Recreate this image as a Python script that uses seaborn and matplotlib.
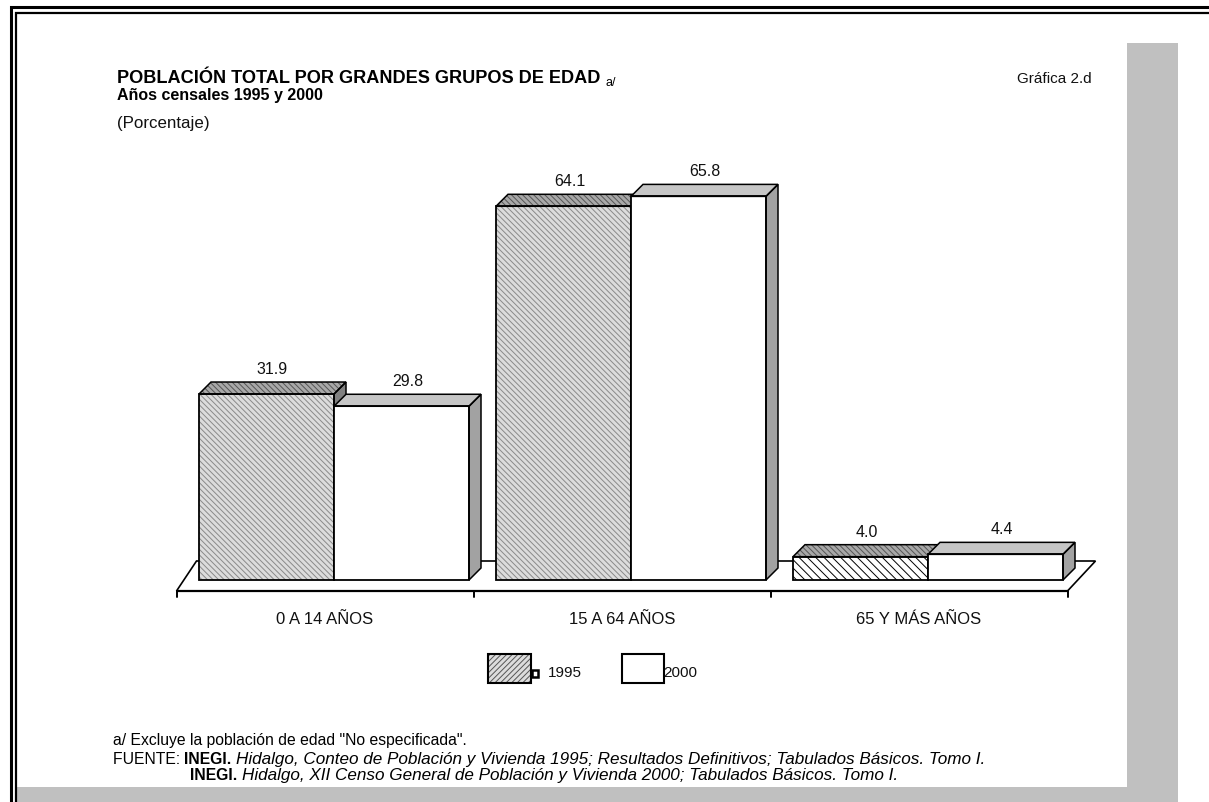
import matplotlib
matplotlib.use("Agg")
import matplotlib.pyplot as plt
from matplotlib.patches import Polygon, Rectangle
import numpy as np
import pandas as pd
import seaborn as sns

# ---- data ----
grupos = ["0 A 14 AÑOS", "15 A 64 AÑOS", "65 Y MÁS AÑOS"]
anios = ["1995", "2000"]
valores_1995 = [31.9, 64.1, 4.0]
valores_2000 = [29.8, 65.8, 4.4]

df = pd.DataFrame({
    "grupo": grupos * 2,
    "anio": ["1995"] * 3 + ["2000"] * 3,
    "porcentaje": valores_1995 + valores_2000,
})

sns.set_theme(style="white")
plt.rcParams["font.family"] = ["Liberation Sans", "DejaVu Sans"]
plt.rcParams["hatch.linewidth"] = 0.7

W, H = 1209, 802
fig = plt.figure(figsize=(W / 100, H / 100), dpi=100)

# page background drawn in pixel coordinates
bg = fig.add_axes([0, 0, 1, 1])
bg.set_xlim(0, W)
bg.set_ylim(H, 0)
bg.axis("off")

GRAY = "#c0c0c0"
bg.add_patch(Rectangle((1127, 43), 51, H - 43, facecolor=GRAY, edgecolor="none"))
bg.add_patch(Rectangle((16, 787), 1162, H - 787, facecolor=GRAY, edgecolor="none"))
# double frame
bg.plot([10.5, 10.5, W + 5], [H + 5, 6.5, 6.5], color="black", lw=2.2, solid_joinstyle="miter")
bg.plot([15.5, 15.5, W + 5], [H + 5, 12.5, 12.5], color="black", lw=1.6, solid_joinstyle="miter")

# ---- chart axes: one group step = 297 px, 1 % = 5.83 px ----
PX_X = 297.0
PX_Y = 5.83
X0_PX = 334.0      # pixel of category 0 centre
Y0_PX = 580.0      # pixel of value 0
ax_l, ax_r, ax_t, ax_b = 150, 1120, 140, 640
ax = fig.add_axes([ax_l / W, 1 - ax_b / H, (ax_r - ax_l) / W, (ax_b - ax_t) / H])
ax.patch.set_alpha(0)

sns.barplot(
    data=df, x="grupo", y="porcentaje", hue="anio", order=grupos, hue_order=anios,
    palette={"1995": "#dcdcdc", "2000": "white"}, width=270 / PX_X, gap=0,
    edgecolor="#777777", linewidth=0, legend=False, ax=ax,
)
ax.set_xlim((ax_l - X0_PX) / PX_X, (ax_r - X0_PX) / PX_X)
ax.set_ylim((Y0_PX - ax_b) / PX_Y, (Y0_PX - ax_t) / PX_Y)
ax.axis("off")


def dxp(px):
    return px / PX_X


def dyp(px):
    return px / PX_Y


DX, DY = dxp(12), dyp(12)

# floor plane
fx0, fx1 = -0.5, 2.5
floor = Polygon(
    [(fx0 - dxp(9), -dyp(11)), (fx1 - dxp(9), -dyp(11)),
     (fx1 + dxp(19), dyp(19)), (fx0 + dxp(11), dyp(19))],
    closed=True, facecolor="white", edgecolor="black", lw=1.2, zorder=0.5,
)
ax.add_patch(floor)
# front axis line with group ticks
ax.plot([fx0 - dxp(9), fx1 - dxp(9)], [-dyp(11), -dyp(11)], color="black", lw=1.6, zorder=0.6,
        solid_capstyle="butt")
for b in np.arange(fx0, fx1 + 0.01, 1.0):
    ax.plot([b - dxp(9)] * 2, [-dyp(11), -dyp(17)], color="black", lw=1.4, zorder=0.6)

# category labels
for i, g in enumerate(grupos):
    ax.text(i - dxp(9), -dyp(39), g, ha="center", va="center", fontsize=12, color="#111111")

cont_1995, cont_2000 = ax.containers[0], ax.containers[1]


def faces(patch, top_color, side_color, top_hatch, z):
    x0 = patch.get_x()
    x1 = x0 + patch.get_width()
    h = patch.get_height()
    top = Polygon([(x0, h), (x1, h), (x1 + DX, h + DY), (x0 + DX, h + DY)], closed=True,
                  facecolor=top_color, edgecolor="#555555" if top_hatch else "none",
                  hatch=top_hatch, lw=0, zorder=z)
    side = Polygon([(x1, 0), (x1, h), (x1 + DX, h + DY), (x1 + DX, DY)], closed=True,
                   facecolor=side_color, edgecolor="none", lw=0, zorder=z)
    ax.add_patch(top)
    ax.add_patch(side)
    for poly in (top, side):
        ax.add_patch(Polygon(poly.get_xy(), closed=True, fill=False, edgecolor="black",
                             lw=1.1, zorder=z + 0.05))
    ax.add_patch(Rectangle((x0, 0), x1 - x0, h, fill=False, edgecolor="black", lw=1.3,
                           zorder=z + 0.05))
    return x0, x1, h


for k, (patch, val) in enumerate(zip(cont_1995.patches, valores_1995)):
    patch.set_zorder(2)
    if k == 2:
        patch.set_facecolor("white")
        patch.set_edgecolor("black")
        patch.set_hatch("\\\\\\\\")
    else:
        patch.set_edgecolor("#8a8a8a")
        patch.set_hatch("\\\\\\\\\\\\")
    x0, x1, h = faces(patch, "#a8a8a8", "#808080", "\\\\\\\\\\\\", 2)
    ax.text((x0 + x1) / 2 + DX / 2, h + DY + dyp(5), f"{val:.1f}", ha="center", va="bottom",
            fontsize=11.5, color="#111111")

for patch, val in zip(cont_2000.patches, valores_2000):
    patch.set_zorder(3)
    x0, x1, h = faces(patch, "#c6c6c6", "#a2a2a2", None, 3)
    ax.text((x0 + x1) / 2 + DX / 2, h + DY + dyp(5), f"{val:.1f}", ha="center", va="bottom",
            fontsize=11.5, color="#111111")

# ---- legend ----
bg.add_patch(Rectangle((487.5, 653.5), 43, 29, facecolor="#dcdcdc", edgecolor="#555555",
                       hatch="//////", lw=0))
bg.add_patch(Rectangle((487.5, 653.5), 43, 29, fill=False, edgecolor="black", lw=1.5))
bg.add_patch(Rectangle((532, 670), 6, 7, facecolor="white", edgecolor="black", lw=1.8))
bg.text(548, 673, anios[0], ha="left", va="center", fontsize=11, color="#111111")
bg.add_patch(Rectangle((621.5, 653.5), 42, 29, facecolor="white", edgecolor="black", lw=1.5))
bg.text(663, 673, anios[1], ha="left", va="center", fontsize=11, color="#111111")

renderer = fig.canvas.get_renderer()


def chain(x, y, parts, **kw):
    """Write consecutive text runs on one baseline, each starting where the last ended."""
    for txt, extra in parts:
        opts = dict(kw)
        opts.update(extra)
        t = bg.text(x, y, txt, ha="left", va="baseline", **opts)
        x = t.get_window_extent(renderer).x1
    return x


# ---- titles ----
end = chain(117, 83, [("POBLACIÓN TOTAL POR GRANDES GRUPOS DE EDAD", {"fontweight": "bold"})],
            fontsize=13.1, color="black")
bg.text(end + 5, 86, "a/", ha="left", va="baseline", fontsize=9, color="black")
bg.text(117, 100, "Años censales 1995 y 2000", ha="left", va="baseline",
        fontsize=11.5, fontweight="bold", color="black")
bg.text(117, 128, "(Porcentaje)", ha="left", va="baseline", fontsize=12.2, color="#111111")
bg.text(1092, 83, "Gráfica 2.d", ha="right", va="baseline", fontsize=11, color="#111111")

# ---- footnotes ----
fn = dict(fontsize=11.3, color="black")
ital = {"style": "italic", "fontsize": 12.3}
chain(113, 745, [('a/ Excluye la población de edad "No especificada".', {})], **fn)
chain(113, 764, [("FUENTE: ", {}), ("INEGI. ", {"fontweight": "bold"}),
                 ("Hidalgo, Conteo de Población y Vivienda 1995; Resultados Definitivos; "
                  "Tabulados Básicos. Tomo I.", ital)], **fn)
chain(190, 780, [("INEGI. ", {"fontweight": "bold"}),
                 ("Hidalgo, XII Censo General de Población y Vivienda 2000; Tabulados Básicos. Tomo I.",
                  ital)], **fn)

fig.savefig("out.png", dpi=100)
